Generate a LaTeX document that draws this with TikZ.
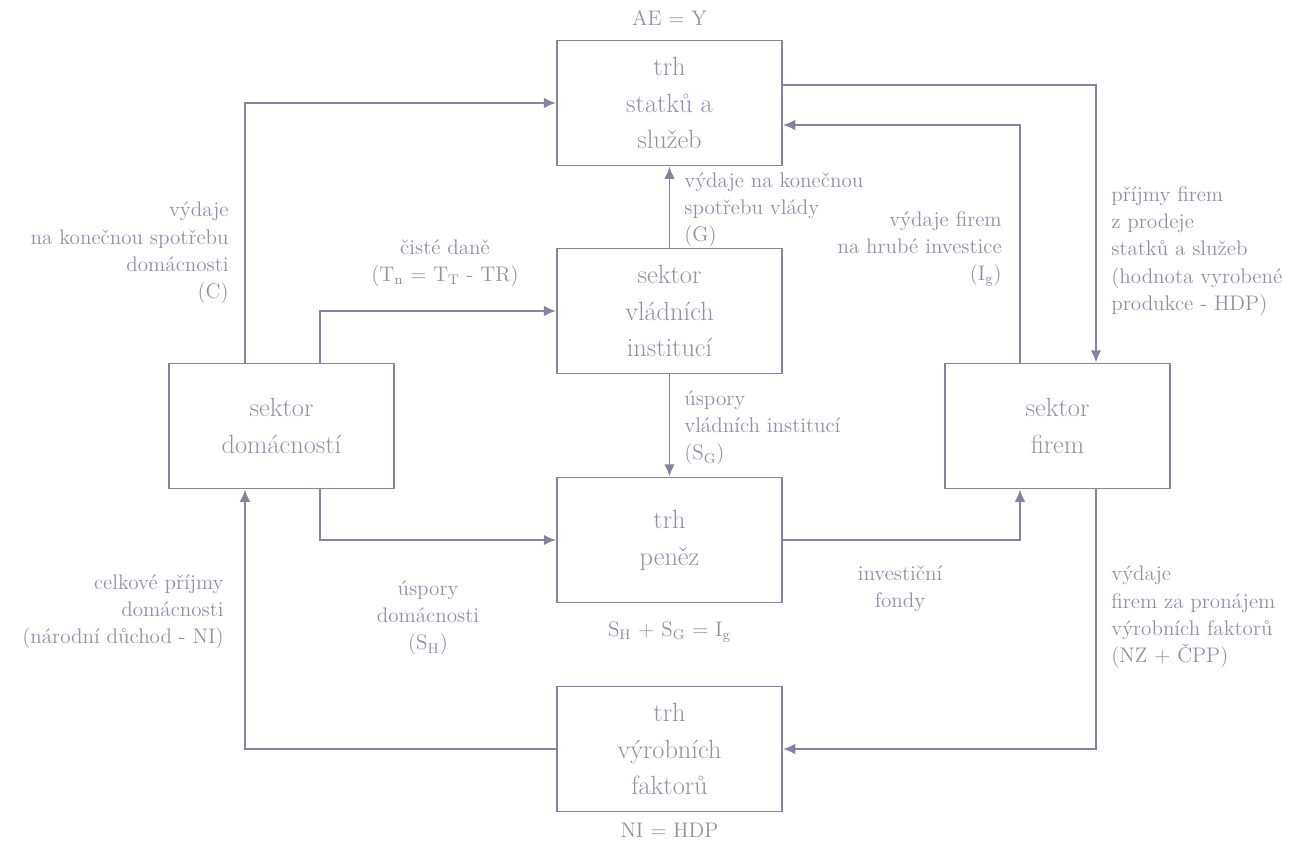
\documentclass[tikz,border=0pt]{standalone}
\usepackage{tikz}
\usetikzlibrary{arrows.meta,calc}
\definecolor{flowline}{RGB}{140,128,160}
\definecolor{flowtext}{RGB}{150,140,166}
\tikzset{
  sector/.style={draw=flowline, line width=1.1pt, minimum width=4.5cm, minimum height=2.5cm,
    align=center, text=flowtext, font=\fontsize{15}{21}\selectfont},
  note/.style={text=flowtext, font=\fontsize{12}{15.5}\selectfont, inner sep=0pt},
  flow/.style={draw=flowline, line width=1.1pt, -{Latex[length=7pt,width=6pt]}}
}

\begin{document}
\begin{tikzpicture}[x=0.02cm,y=-0.02cm]
\useasboundingbox (0,0) rectangle (1294,842);
\node[sector] (goods) at (669.5,103) {trh\\statků a\\služeb};
\node[sector] (gov) at (669.5,311) {sektor\\vládních\\institucí};
\node[sector] (money) at (669.5,540) {trh\\peněz};
\node[sector] (factors) at (669.5,749) {trh\\výrobních\\faktorů};
\node[sector] (house) at (281.5,426) {sektor\\domácností};
\node[sector] (firms) at (1057.5,426) {sektor\\firem};

\draw[flow] ($(house.north)+(-36.5,0)$) |- (goods.west);
\draw[flow] ($(house.north)+(38.5,0)$) |- (gov.west);
\draw[flow] ($(house.south)+(38.5,0)$) |- (money.west);
\draw[flow] (gov.south) -- (money.north);
\draw[flow] (gov.north) -- (goods.south);
\draw[flow] ($(firms.north)+(-37.5,0)$) |- ($(goods.east)+(0,22)$);
\draw[flow] ($(goods.east)+(0,-18)$) -| ($(firms.north)+(38.5,0)$);
\draw[flow] (money.east) -| ($(firms.south)+(-37.5,0)$);
\draw[flow] ($(firms.south)+(38.5,0)$) |- (factors.east);
\draw[flow] (factors.west) -| ($(house.south)+(-36.5,0)$);

\node[note] (ae) at (669.5,18) {AE = Y};
\node[note] (ni) at (669.5,830) {NI = HDP};
\node[note] (balance) at (669.5,632) {S\textsubscript{H} + S\textsubscript{G} = I\textsubscript{g}};
\node[note, anchor=east, align=right] (consume) at (229,253) {výdaje\\na konečnou spotřebu\\domácnosti\\(C)};
\node[note, align=center] (taxes) at (445,263) {čisté daně\\(T\textsubscript{n} = T\textsubscript{T} - TR)};
\node[note, anchor=west, align=left] (govspend) at (684,210) {výdaje na konečnou\\spotřebu vlády\\(G)};
\node[note, anchor=east, align=right] (invest) at (1002,249) {výdaje firem\\na hrubé investice\\(I\textsubscript{g})};
\node[note, anchor=west, align=left] (revenue) at (1111,251) {příjmy firem\\z prodeje\\statků a služeb\\(hodnota vyrobené\\produkce - HDP)};
\node[note, anchor=west, align=left] (govsave) at (684,428) {úspory\\vládních institucí\\(S\textsubscript{G})};
\node[note, align=center] (housesave) at (428,618) {úspory\\domácnosti\\(S\textsubscript{H})};
\node[note, align=center] (funds) at (900,589) {investiční\\fondy};
\node[note, anchor=west, align=left] (rent) at (1111,617) {výdaje\\firem za pronájem\\výrobních faktorů\\(NZ + ČPP)};
\node[note, anchor=east, align=right] (income) at (224,612) {celkové příjmy\\domácnosti\\(národní důchod - NI)};
\end{tikzpicture}
\end{document}
